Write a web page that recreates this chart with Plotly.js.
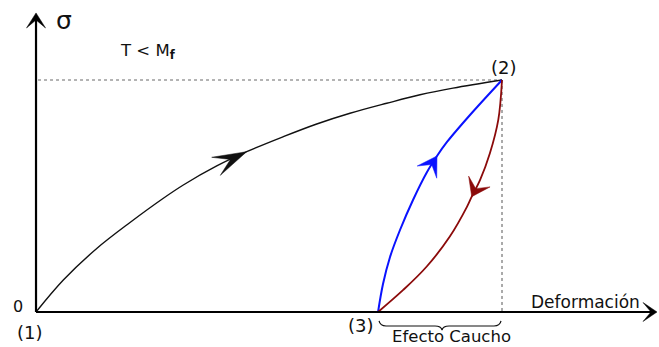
<!DOCTYPE html>
<html>
<head>
<meta charset="utf-8">
<script src="https://cdn.plot.ly/plotly-3.0.1.min.js"></script>
<style>
  html, body { margin: 0; padding: 0; background: #fff; }
  #chart { width: 659px; height: 347px; }
</style>
</head>
<body>
<div id="chart"></div>
<script>
// Stress–strain path, normalized so that point (2) sits at (1, 1).
// Loading (1) -> (2), black
const loadStrain = [0, 0.0586, 0.1303, 0.2017, 0.2725, 0.3161, 0.3878, 0.4521, 0.5307, 0.6024, 0.6738, 0.7526, 0.8240, 0.8948, 1];
const loadStress = [0, 0.1379, 0.2737, 0.3858, 0.4892, 0.5474, 0.6293, 0.6909, 0.7556, 0.8103, 0.8565, 0.8996, 0.9362, 0.9651, 1];
// Recovery (3) -> (2), blue
const upStrain = [0.734, 0.7446, 0.7597, 0.7811, 0.809, 0.8391, 0.8605, 0.882, 0.9313, 1];
const upStress = [0, 0.1207, 0.2371, 0.3534, 0.4828, 0.6034, 0.6724, 0.7328, 0.8491, 1];
// Unloading (2) -> (3), dark red
const downStrain = [1, 0.992, 0.974, 0.953, 0.935, 0.925, 0.888, 0.838, 0.788, 0.734];
const downStress = [1, 0.828, 0.684, 0.569, 0.497, 0.454, 0.325, 0.195, 0.095, 0];

// Index of the point on each curve where the direction arrow sits
const loadArrowAt = 7;
const upArrowAt = 6;
const downArrowAt = 4;

// Key states and captions
const pointLabels = ['(1)', '(2)', '(3)'];
const axisLabels = ['σ', 'Deformación'];
const originLabel = '0';
const conditionLabel = 'T &lt; M<sub><b>f</b></sub>';
const braceLabel = 'Efecto Caucho';

const W = 659, H = 347;
const xr = [-0.0773, 1.3369];
const yr = [-0.1509, 1.3448];
const axisTipX = 1.3326;
const axisTipY = 1.289;

const P1 = [loadStrain[0], loadStress[0]];
const P2 = [loadStrain[loadStrain.length - 1], loadStress[loadStress.length - 1]];
const P3 = [upStrain[0], upStress[0]];

function toPx(x, y) {
  return [(x - xr[0]) / (xr[1] - xr[0]) * W, (yr[1] - y) / (yr[1] - yr[0]) * H];
}
function toData(px, py) {
  return [xr[0] + px / W * (xr[1] - xr[0]), yr[1] - py / H * (yr[1] - yr[0])];
}

// Barbed arrowhead polygon (sizes in pixels), returned as a data-space path
function headPath(tip, from, L, Wd, N) {
  const [tx, ty] = toPx(tip[0], tip[1]);
  const [fx, fy] = toPx(from[0], from[1]);
  let dx = tx - fx, dy = ty - fy;
  const n = Math.hypot(dx, dy); dx /= n; dy /= n;
  const nx = -dy, ny = dx;
  const pts = [
    [tx, ty],
    [tx - dx * L + nx * Wd / 2, ty - dy * L + ny * Wd / 2],
    [tx - dx * N, ty - dy * N],
    [tx - dx * L - nx * Wd / 2, ty - dy * L - ny * Wd / 2]
  ];
  return 'M' + pts.map(p => toData(p[0], p[1]).join(',')).join('L') + 'Z';
}

function curveHead(xs, ys, i, color, L, Wd, N) {
  return {
    type: 'path', xref: 'x', yref: 'y', layer: 'above',
    path: headPath([xs[i], ys[i]], [xs[i - 1], ys[i - 1]], L, Wd, N),
    fillcolor: color, line: { color: color, width: 0.5 }
  };
}

// Curly brace under the x axis spanning (3) .. (2)
function bracePath(xa, xb) {
  const [pa, y0] = toPx(xa, 0);
  const [pb] = toPx(xb, 0);
  const top = y0 + 9, mid = y0 + 14, tipY = y0 + 18;
  const c = (pa + pb) / 2 + 2;
  const segs = [
    ['M', pa + 1, top],
    ['Q', pa + 2, mid, pa + 8, mid],
    ['L', c - 7, mid],
    ['Q', c - 1, mid, c, tipY],
    ['Q', c + 1, mid, c + 7, mid],
    ['L', pb - 8, mid],
    ['Q', pb - 2, mid, pb - 1, top]
  ];
  return segs.map(s => {
    const coords = [];
    for (let k = 1; k < s.length; k += 2) coords.push(toData(s[k], s[k + 1]).join(','));
    return s[0] + coords.join(' ');
  }).join(' ');
}

const traces = [
  { x: loadStrain, y: loadStress, mode: 'lines', line: { color: '#111111', width: 1.4, shape: 'spline', smoothing: 1 }, hoverinfo: 'skip' },
  { x: upStrain, y: upStress, mode: 'lines', line: { color: '#0a12ff', width: 2, shape: 'spline', smoothing: 1 }, hoverinfo: 'skip' },
  { x: downStrain, y: downStress, mode: 'lines', line: { color: '#8b0a0a', width: 1.8, shape: 'spline', smoothing: 1 }, hoverinfo: 'skip' }
];

const pxPerY = H / (yr[1] - yr[0]);
const pxPerX = W / (xr[1] - xr[0]);

const shapes = [
  // dotted guides from (2)
  { type: 'line', xref: 'x', yref: 'y', x0: 2 / pxPerX, y0: P2[1], x1: P2[0], y1: P2[1],
    line: { color: '#9a9a9a', width: 1.5, dash: 'dot' }, layer: 'below' },
  { type: 'line', xref: 'x', yref: 'y', x0: P2[0], y0: P2[1], x1: P2[0], y1: 0,
    line: { color: '#555555', width: 1, dash: 'dot' }, layer: 'below' },
  // axes
  { type: 'line', xref: 'x', yref: 'y', x0: 0, y0: 0, x1: 0, y1: axisTipY - 7 / pxPerY,
    line: { color: '#000', width: 2.2 } },
  { type: 'line', xref: 'x', yref: 'y', x0: 0, y0: 0, x1: axisTipX - 6 / pxPerX, y1: 0,
    line: { color: '#000', width: 2.2 } },
  { type: 'path', xref: 'x', yref: 'y', path: headPath([0, axisTipY], [0, 0], 15, 19, 7),
    fillcolor: '#000', line: { color: '#000', width: 0.5 } },
  { type: 'path', xref: 'x', yref: 'y', path: headPath([axisTipX, 0], [0, 0], 14, 19, 6),
    fillcolor: '#000', line: { color: '#000', width: 0.5 } },
  // direction arrows on the curves
  curveHead(loadStrain, loadStress, loadArrowAt, '#111111', 34, 20, 18),
  curveHead(upStrain, upStress, upArrowAt, '#0a12ff', 19, 23, 10),
  curveHead(downStrain, downStress, downArrowAt, '#8b0a0a', 17, 24, 9),
  // brace
  { type: 'path', xref: 'x', yref: 'y', path: bracePath(P3[0], P2[0]),
    line: { color: '#111', width: 1.2 } }
];

const txtFont = { family: 'DejaVu Sans, Arial, sans-serif', size: 16, color: '#111' };
function label(text, at, xs, ys, size) {
  return {
    text: text, x: at[0], y: at[1], xref: 'x', yref: 'y', showarrow: false,
    xshift: xs, yshift: ys, xanchor: 'center', yanchor: 'middle',
    font: Object.assign({}, txtFont, { size: size })
  };
}

const annotations = [
  label(axisLabels[0], [0, axisTipY], 28, -8, 25),
  label(conditionLabel, [0, axisTipY], 112, -39, 16.5),
  label(originLabel, P1, -18, 5, 16),
  label(pointLabels[0], P1, -6, -21, 18),
  label(pointLabels[1], P2, 2, 12, 18),
  label(pointLabels[2], P3, -17, -14, 18),
  label(axisLabels[1], [axisTipX, 0], -72, 10, 17),
  label(braceLabel, [(P3[0] + P2[0]) / 2, 0], 11, -25, 16.5)
];

const layout = {
  width: W, height: H, autosize: false,
  margin: { l: 0, r: 0, t: 0, b: 0, pad: 0 },
  paper_bgcolor: '#fff', plot_bgcolor: '#fff',
  showlegend: false,
  xaxis: { range: xr, visible: false, fixedrange: true },
  yaxis: { range: yr, visible: false, fixedrange: true },
  shapes: shapes,
  annotations: annotations
};

Plotly.newPlot('chart', traces, layout, { staticPlot: true, displayModeBar: false });
</script>
</body>
</html>
